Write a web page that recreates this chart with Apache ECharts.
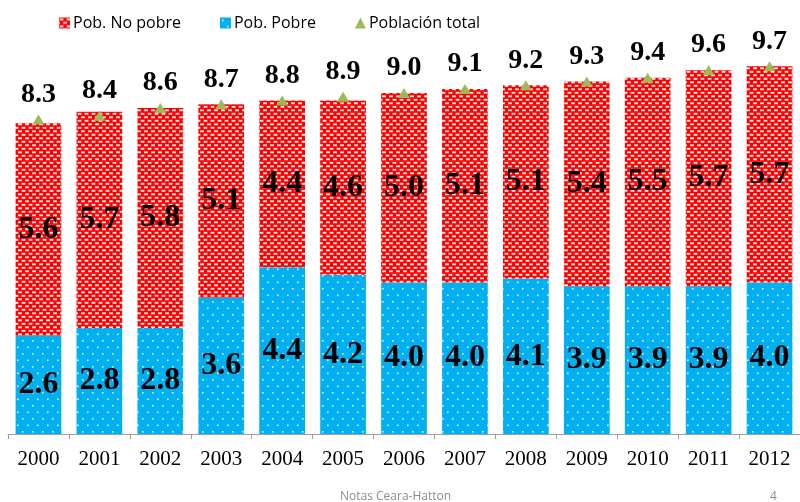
<!DOCTYPE html>
<html>
<head>
<meta charset="utf-8">
<script src="https://cdn.jsdelivr.net/npm/echarts@6/dist/echarts.min.js"></script>
<style>
html,body{margin:0;padding:0;background:#fff;}
#chart{width:800px;height:502px;}
</style>
</head>
<body>
<div id="chart"></div>
<script>
var years = ['2000','2001','2002','2003','2004','2005','2006','2007','2008','2009','2010','2011','2012'];
var pobre = [2.6, 2.8, 2.8, 3.6, 4.4, 4.2, 4.0, 4.0, 4.1, 3.9, 3.9, 3.9, 4.0];
var noPobre = [5.6, 5.7, 5.8, 5.1, 4.4, 4.6, 5.0, 5.1, 5.1, 5.4, 5.5, 5.7, 5.7];
var total = [8.3, 8.4, 8.6, 8.7, 8.8, 8.9, 9.0, 9.1, 9.2, 9.3, 9.4, 9.6, 9.7];
var seriesNames = ['Pob. No pobre', 'Pob. Pobre', 'Población total'];

function redPattern() {
  var c = document.createElement('canvas');
  c.width = 7; c.height = 7;
  var g = c.getContext('2d');
  g.fillStyle = '#FF0000'; g.fillRect(0, 0, 7, 7);
  g.fillStyle = 'rgba(255,200,200,0.9)';
  g.fillRect(0.5, 0.8, 4, 2);
  g.fillRect(4, 4.3, 3, 2); g.fillRect(0, 4.3, 1, 2);
  g.fillStyle = '#FFFFFF';
  g.fillRect(1, 1.3, 3, 1);
  g.fillRect(4.5, 4.8, 2.5, 1); g.fillRect(0, 4.8, 0.5, 1);
  return c;
}
function bluePattern() {
  var c = document.createElement('canvas');
  c.width = 10; c.height = 13;
  var g = c.getContext('2d');
  g.fillStyle = '#00B0F0'; g.fillRect(0, 0, 10, 13);
  g.fillStyle = 'rgba(255,255,255,0.85)';
  g.fillRect(2, 2, 1.6, 1.6);
  g.fillRect(7, 8.5, 1.6, 1.6);
  return c;
}

var chart = echarts.init(document.getElementById('chart'), null, {renderer: 'canvas'});
var serif = '"Liberation Serif", "Times New Roman", serif';
var innerLabel = {show: true, position: 'inside', color: '#000', fontFamily: serif, fontWeight: 'bold', fontSize: 32,
  formatter: function (p) { return p.value.toFixed(1); }};

chart.setOption({
  animation: false,
  backgroundColor: '#fff',
  legend: {
    left: 54, top: 10,
    itemWidth: 11, itemHeight: 11, itemGap: 39,
    textStyle: {fontFamily: '"Open Sans", "Noto Sans", sans-serif', fontSize: 16, color: '#000', padding: [0, 0, 0, -2]},
    data: [
      {name: seriesNames[0], icon: 'rect'},
      {name: seriesNames[1], icon: 'rect'},
      {name: seriesNames[2], icon: 'triangle', itemStyle: {color: '#9BBB59'}}
    ]
  },
  grid: {left: 8, right: -6, top: 55, bottom: 68, containLabel: false},
  xAxis: {
    type: 'category', data: years,
    axisLine: {lineStyle: {color: '#A0A0A0', width: 1}},
    axisTick: {show: true, length: 5, lineStyle: {color: '#A0A0A0'}},
    axisLabel: {color: '#000', fontFamily: serif, fontSize: 21, margin: 15}
  },
  yAxis: {type: 'value', min: 0, max: 10, show: false, splitLine: {show: false}},
  series: [
    {name: seriesNames[1], type: 'bar', stack: 'a', data: pobre, barCategoryGap: '25%',
      itemStyle: {color: {image: bluePattern(), repeat: 'repeat'}}, label: innerLabel},
    {name: seriesNames[0], type: 'bar', stack: 'a', data: noPobre,
      itemStyle: {color: {image: redPattern(), repeat: 'repeat'}}, label: innerLabel},
    {name: seriesNames[2], type: 'line', data: total, z: 5,
      symbol: 'triangle', symbolSize: [12, 10],
      itemStyle: {color: '#9BBB59'}, lineStyle: {width: 0, opacity: 0},
      label: {show: true, position: 'top', distance: 6, color: '#000', fontFamily: serif, fontWeight: 'bold', fontSize: 28,
        formatter: function (p) { return p.value.toFixed(1); }}}
  ],
  graphic: [
    {type: 'text', left: 340, top: 491, style: {text: 'Notas Ceara-Hatton', fill: '#8C8C8C', font: '12px "Open Sans", "Noto Sans", sans-serif'}},
    {type: 'text', left: 770, top: 491, style: {text: '4', fill: '#8C8C8C', font: '12px "Open Sans", "Noto Sans", sans-serif'}}
  ]
});
</script>
</body>
</html>
